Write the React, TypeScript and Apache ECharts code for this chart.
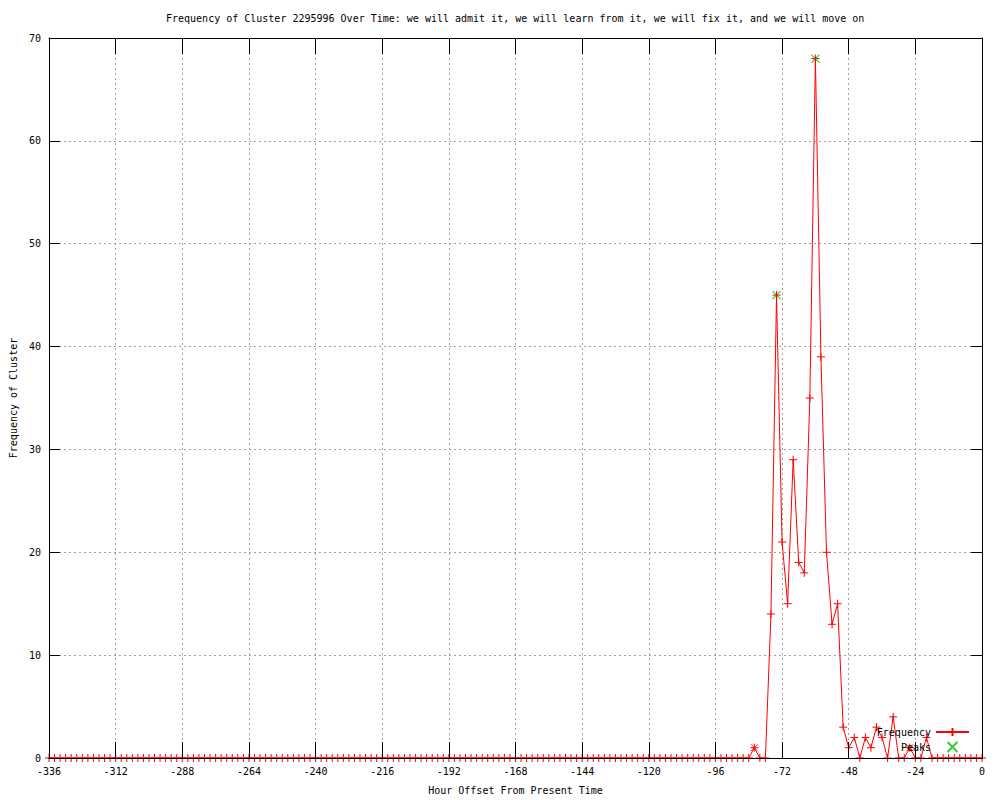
import React, { useEffect, useRef } from "react";
import * as echarts from "echarts";

// Hour offsets (every 2 hours from -336 to 0)
const hours: number[] = [
  -336, -334, -332, -330, -328, -326, -324, -322, -320, -318, -316, -314, -312, -310, -308, -306, -304, -302, -300, -298,
  -296, -294, -292, -290, -288, -286, -284, -282, -280, -278, -276, -274, -272, -270, -268, -266, -264, -262, -260, -258,
  -256, -254, -252, -250, -248, -246, -244, -242, -240, -238, -236, -234, -232, -230, -228, -226, -224, -222, -220, -218,
  -216, -214, -212, -210, -208, -206, -204, -202, -200, -198, -196, -194, -192, -190, -188, -186, -184, -182, -180, -178,
  -176, -174, -172, -170, -168, -166, -164, -162, -160, -158, -156, -154, -152, -150, -148, -146, -144, -142, -140, -138,
  -136, -134, -132, -130, -128, -126, -124, -122, -120, -118, -116, -114, -112, -110, -108, -106, -104, -102, -100, -98,
  -96, -94, -92, -90, -88, -86, -84, -82, -80, -78, -76, -74, -72, -70, -68, -66, -64, -62, -60, -58,
  -56, -54, -52, -50, -48, -46, -44, -42, -40, -38, -36, -34, -32, -30, -28, -26, -24, -22, -20, -18,
  -16, -14, -12, -10, -8, -6, -4, -2, 0,
];

// Frequency values, one per hour offset above
const frequency: number[] = [
  0, 0, 0, 0, 0, 0, 0, 0, 0, 0, 0, 0, 0, 0, 0, 0, 0, 0, 0, 0,
  0, 0, 0, 0, 0, 0, 0, 0, 0, 0, 0, 0, 0, 0, 0, 0, 0, 0, 0, 0,
  0, 0, 0, 0, 0, 0, 0, 0, 0, 0, 0, 0, 0, 0, 0, 0, 0, 0, 0, 0,
  0, 0, 0, 0, 0, 0, 0, 0, 0, 0, 0, 0, 0, 0, 0, 0, 0, 0, 0, 0,
  0, 0, 0, 0, 0, 0, 0, 0, 0, 0, 0, 0, 0, 0, 0, 0, 0, 0, 0, 0,
  0, 0, 0, 0, 0, 0, 0, 0, 0, 0, 0, 0, 0, 0, 0, 0, 0, 0, 0, 0,
  0, 0, 0, 0, 0, 0, 0, 1, 0, 0, 14, 45, 21, 15, 29, 19, 18, 35, 68, 39,
  20, 13, 15, 3, 1, 2, 0, 2, 1, 3, 2, 0, 4, 0, 0, 1, 0, 0, 2, 0,
  0, 0, 0, 0, 0, 0, 0, 0, 0,
];

const peakHours: number[] = [-74, -60];
const peakValues: number[] = [45, 68];

const minorHours: number[] = [-82, -26];
const minorValues: number[] = [1, 1];

const xTickMin = -336;
const xTickMax = 0;
const xTickStep = 24;
const yTickMin = 0;
const yTickMax = 70;
const yTickStep = 10;

const FONT = "'DejaVu Sans Mono', 'Liberation Mono', monospace";
const PLUS = "path://M0,5L10,5M5,0L5,10";
const CROSS = "path://M0,0L10,10M10,0L0,10";

export default function App() {
  const ref = useRef<HTMLDivElement>(null);

  useEffect(() => {
    if (!ref.current) return;
    const chart = echarts.init(ref.current, null, { renderer: "svg" });

    const freqData = hours.map((h, i) => [h, frequency[i]]);
    const peakData = peakHours.map((h, i) => [h, peakValues[i]]);
    const minorData = minorHours.map((h, i) => [h, minorValues[i]]);

    const frameX = (position: "top" | "bottom") => ({
      type: "value",
      min: xTickMin,
      max: xTickMax,
      interval: xTickStep,
      position,
      z: 10,
      axisLine: { show: true, onZero: false, lineStyle: { color: "#000", width: 1 } },
      axisTick: { show: true, inside: true, length: 16, lineStyle: { color: "#000", width: 1 } },
      axisLabel: { show: false },
      splitLine: { show: false },
    });
    const frameY = (position: "left" | "right") => ({
      type: "value",
      min: yTickMin,
      max: yTickMax,
      interval: yTickStep,
      position,
      z: 10,
      axisLine: { show: true, onZero: false, lineStyle: { color: "#000", width: 1 } },
      axisTick: { show: true, inside: true, length: 11, lineStyle: { color: "#000", width: 1 } },
      axisLabel: { show: false },
      splitLine: { show: false },
    });

    chart.setOption({
      animation: false,
      backgroundColor: "#ffffff",
      title: {
        text: "Frequency of Cluster 2295996 Over Time: we will admit it, we will learn from it, we will fix it, and we will move on",
        left: 166,
        top: 13,
        padding: 0,
        textStyle: { fontFamily: FONT, fontSize: 10, fontWeight: "normal", color: "#000" },
      },
      grid: { left: 49, right: 18, top: 38, bottom: 39.5, containLabel: false },
      legend: {
        data: ["Frequency", "Peaks"],
        orient: "vertical",
        right: 30,
        bottom: 47,
        align: "right",
        itemWidth: 33,
        itemHeight: 10,
        itemGap: 4,
        padding: 0,
        selectedMode: false,
        textStyle: { fontFamily: FONT, fontSize: 10, color: "#000" },
      },
      xAxis: [
        {
          type: "value",
          min: xTickMin,
          max: xTickMax,
          interval: xTickStep,
          position: "bottom",
          z: 0,
          name: "Hour Offset From Present Time",
          nameLocation: "middle",
          nameGap: 27,
          nameTextStyle: { fontFamily: FONT, fontSize: 10, color: "#000" },
          axisLine: { show: false, onZero: false },
          axisTick: { show: false },
          axisLabel: { fontFamily: FONT, fontSize: 10, color: "#000", margin: 8 },
          splitLine: { show: true, lineStyle: { color: "#a0a0a0", type: [2, 3], width: 1 } },
        },
        frameX("bottom"),
        frameX("top"),
      ],
      yAxis: [
        {
          type: "value",
          min: yTickMin,
          max: yTickMax,
          interval: yTickStep,
          position: "left",
          z: 0,
          name: "Frequency of Cluster",
          nameLocation: "middle",
          nameGap: 31,
          nameTextStyle: { fontFamily: FONT, fontSize: 10, color: "#000" },
          axisLine: { show: false, onZero: false },
          axisTick: { show: false },
          axisLabel: { fontFamily: FONT, fontSize: 10, color: "#000", margin: 8 },
          splitLine: { show: true, lineStyle: { color: "#a0a0a0", type: [2, 3], width: 1 } },
        },
        frameY("left"),
        frameY("right"),
      ],
      series: [
        {
          name: "Peaks",
          type: "scatter",
          xAxisIndex: 0,
          yAxisIndex: 0,
          data: peakData,
          symbol: CROSS,
          symbolSize: 8,
          z: 2,
          itemStyle: { color: "#00c000", borderColor: "#00c000", borderWidth: 1.2 },
        },
        {
          name: "Frequency",
          type: "line",
          xAxisIndex: 0,
          yAxisIndex: 0,
          data: freqData,
          showAllSymbol: true,
          symbol: PLUS,
          symbolSize: 8,
          z: 3,
          lineStyle: { color: "#ff0000", width: 1 },
          itemStyle: { color: "#ff0000", borderColor: "#ff0000", borderWidth: 1 },
        },
        {
          name: "minor",
          type: "scatter",
          xAxisIndex: 0,
          yAxisIndex: 0,
          data: minorData,
          symbol: CROSS,
          symbolSize: 7,
          z: 3,
          itemStyle: { color: "#ff0000", borderColor: "#ff0000", borderWidth: 1 },
        },
      ],
    });

    return () => chart.dispose();
  }, []);

  return (
    <div
      ref={ref}
      style={{ position: "fixed", left: 0, top: 0, width: 1000, height: 800, background: "#fff" }}
    />
  );
}
